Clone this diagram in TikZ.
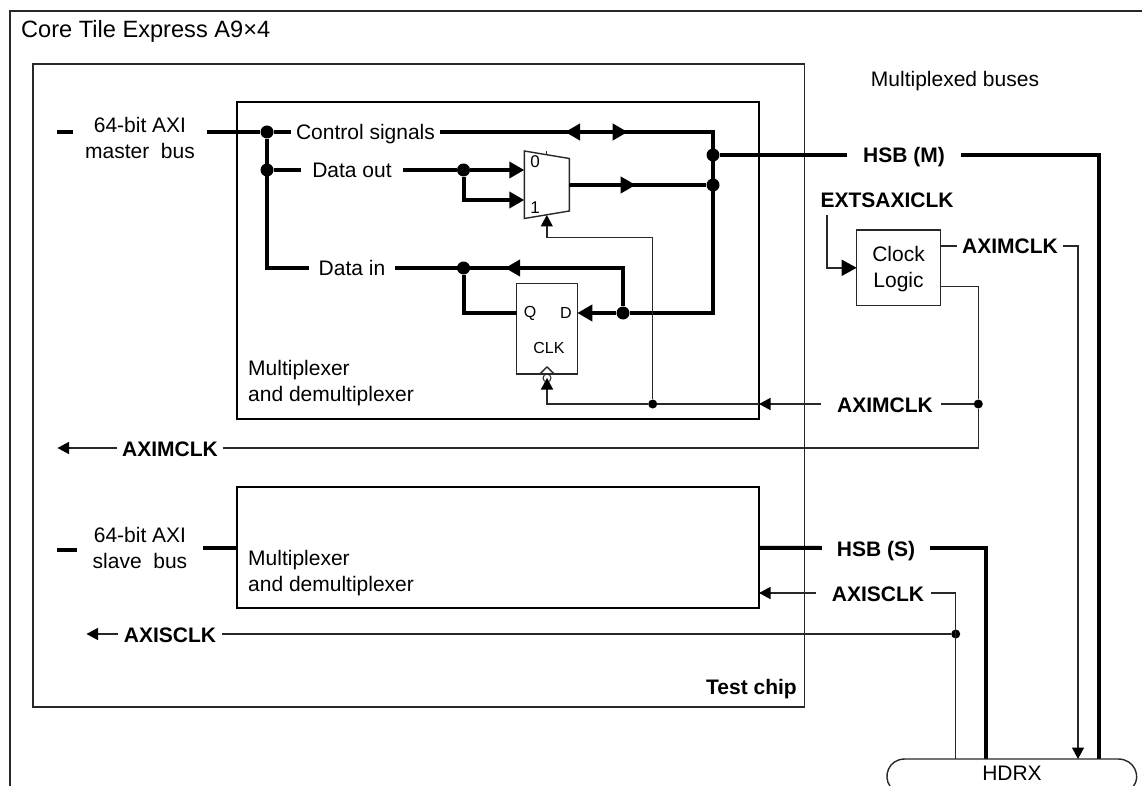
\documentclass[tikz,border=0pt]{standalone}
\usepackage{fontspec}
\setmainfont{Liberation Sans}
\usepackage{xcolor}
\usetikzlibrary{arrows.meta,positioning,calc}
\definecolor{linecol}{RGB}{40,40,40}
\tikzset{
  frameln/.style={draw=linecol,line width=1.5pt},
  blockbox/.style={rectangle,draw=black,line width=2pt,fill=none,inner sep=0pt,outer sep=0pt},
  smallbox/.style={rectangle,draw=linecol,line width=1.4pt,fill=none,inner sep=0pt,outer sep=0pt,align=center},
  bus/.style={draw=black,line width=4pt},
  busarr/.style={bus,-{Triangle[length=15pt,width=16pt]}},
  clk/.style={draw=linecol,line width=1.4pt},
  clkarr/.style={clk,-{Triangle[length=11.5pt,width=12pt,color=black]}},
  lab/.style={inner ysep=0pt,outer sep=0pt,text height=16pt,text depth=0pt},
  blab/.style={lab,font=\fontsize{21}{26}\selectfont\bfseries},
  twoline/.style={align=center,inner ysep=0pt,outer sep=0pt},
  busdot/.style={circle,fill=black,inner sep=0pt,minimum size=13pt},
  clkdot/.style={circle,fill=black,inner sep=0pt,minimum size=9pt},
  pin/.style={inner sep=0pt,font=\fontsize{16}{18}\selectfont},
}
\begin{document}
\begin{tikzpicture}[x=1pt,y=-1pt,font=\fontsize{21}{26}\selectfont]
  \useasboundingbox (0,0) rectangle (1142,786);
  % outer board and blocks
  \coordinate (frameA) at (10,786);
  \coordinate (frameB) at (10,11);
  \coordinate (frameC) at (1142,11);
  \draw[frameln] (frameA) -- (frameB) -- (frameC);
  \node[anchor=west,inner sep=0pt,font=\fontsize{23.6}{28}\selectfont] (title) at (21,31) {Core Tile Express A9×4};
  \node[blockbox,draw=linecol,line width=1.5pt,minimum width=771.5pt,minimum height=643pt] (chip) at (418.75,385.5) {};
  \node[blockbox,minimum width=522pt,minimum height=317.5pt] (mxa) at (498,260.5) {};
  \node[blockbox,minimum width=522pt,minimum height=121pt] (mxb) at (498,547.75) {};
  \node[smallbox,minimum width=60.6pt,minimum height=90.7pt] (ff) at (547,328.6) {};
  \node[smallbox,minimum width=83.6pt,minimum height=75.7pt] (clklogic) at (898.5,267.8) {};
  \node[align=center,inner sep=0pt] (clktxt) at (898.5,269.5) {Clock\\Logic};
  \node[anchor=west,align=left,inner sep=0pt] (mxatxt) at (248,383.5) {Multiplexer\\and demultiplexer};
  \node[anchor=west,align=left,inner sep=0pt] (mxbtxt) at (248,573) {Multiplexer\\and demultiplexer};
  \node[anchor=east,inner sep=0pt,font=\fontsize{21}{26}\selectfont\bfseries] (chiptxt) at (797,689.5) {Test chip};
  \node[inner sep=0pt] (muxbuses) at (955,81) {Multiplexed buses};
  % bus labels
  \node[twoline,inner xsep=12pt] (mbus) at (140,138) {64-bit AXI\\master\ \ bus};
  \node[twoline,inner xsep=16pt] (sbus) at (140,548) {64-bit AXI\\slave\ \ bus};
  \node[lab,inner xsep=5pt] (ctl) at (365.5,132) {Control signals};
  \node[lab,inner xsep=11pt] (dout) at (352,170) {Data out};
  \node[lab,inner xsep=10pt] (din) at (352,268) {Data in};
  \node[blab,inner xsep=16pt] (hsbm) at (904,155) {HSB (M)};
  \node[blab,inner xsep=15pt] (hsbs) at (876,548) {HSB (S)};
  \node[blab,inner xsep=8pt] (clka) at (885,404) {AXIMCLK};
  \node[blab,inner xsep=5pt] (clkb) at (170,448) {AXIMCLK};
  \node[blab,inner xsep=5pt] (clkc) at (1010,246) {AXIMCLK};
  \node[blab,inner xsep=7pt] (clks) at (878,593) {AXISCLK};
  \node[blab,inner xsep=6pt] (clkt) at (170,634) {AXISCLK};
  \node[blab,inner sep=0pt] (extclk) at (887,200) {EXTSAXICLK};
  \node[inner sep=0pt] (hdrx) at (1012,773) {HDRX};
  % multiplexer outline
  \coordinate (muxA) at (524.3,151);
  \coordinate (muxB) at (569.3,158.5);
  \coordinate (muxC) at (569.3,211);
  \coordinate (muxD) at (524.3,218.5);
  \draw[clk] (muxA) -- (muxB) -- (muxC) -- (muxD) -- cycle;
  \coordinate (muxtick) at (546.8,151);
  \draw[clk,line width=.8pt] (muxtick) -- ++(0,4);
  \node[pin,font=\fontsize{17}{18}\selectfont] (mux0) at (535,162) {0};
  \node[pin,font=\fontsize{17}{18}\selectfont] (mux1) at (535,208) {1};
  % junctions
  \foreach \nm/\px/\py in {jctl/267/132,jdout/267/170,jmuxin/463.5/170,jdin/463.5/268,jhsb/713/155,jmuxout/713/185,jff/623/313}{
    \node[busdot] (\nm) at (\px,\py) {};}
  \foreach \nm/\px/\py in {jclkff/652.7/404,jclka/978.3/404,jclks/955.7/634}{
    \node[clkdot] (\nm) at (\px,\py) {};}
  % points on the lines
  \coordinate (mstub) at (57,132);
  \coordinate (sstub) at (57,550);
  \coordinate (ctlLb) at (580,132);
  \coordinate (ctlL) at (565,132);
  \coordinate (ctlRb) at (612.7,132);
  \coordinate (ctlR) at (627.7,132);
  \coordinate (ctlC) at (713,132);
  \coordinate (muxi0) at (524.3,170);
  \coordinate (muxi1) at (524.3,200);
  \coordinate (muxo) at (569.3,185);
  \coordinate (muxob) at (620.7,185);
  \coordinate (muxot) at (635.7,185);
  \coordinate (dinb) at (520,268);
  \coordinate (dint) at (505,268);
  \coordinate (dinC) at (623,268);
  \coordinate (ffD) at (577.3,313);
  \coordinate (ffQ) at (516.7,313);
  \coordinate (busB) at (713,313);
  \coordinate (hsbmR) at (1099.3,155);
  \coordinate (hsbsR) at (986,548);
  \coordinate (hdrxM) at (1099.3,759);
  \coordinate (hdrxS) at (986,759);
  \coordinate (hdrxC) at (1078,759);
  \coordinate (hdrxT) at (955.7,759);
  % buses
  \draw[bus] (mstub) -- (mbus.west |- mstub);
  \draw[bus] (mbus.east |- mstub) -- (jctl) -- (ctl.west);
  \draw[bus] (jctl) -- (jdout |- din) -- (din.west);
  \draw[bus] (jdout) -- (dout.west);
  \draw[bus] (ctl.east) -- (ctlC) -- (busB) -- (jff);
  \draw[busarr] (ctlLb) -- (ctlL);
  \draw[busarr] (ctlRb) -- (ctlR);
  \draw[busarr] (jff) -- (ffD);
  \draw[bus] (jff) -- (dinC) -- (din.east);
  \draw[busarr] (dinb) -- (dint);
  \draw[bus] (jdin) -- (jdin |- ffQ) -- (ffQ);
  \draw[bus] (dout.east) -- (jmuxin);
  \draw[busarr] (jmuxin) -- (muxi0);
  \draw[busarr] (jmuxin) |- (muxi1);
  \draw[bus] (muxo) -- (jmuxout);
  \draw[busarr] (muxob) -- (muxot);
  \draw[bus] (jhsb) -- (hsbm.west);
  \draw[bus] (hsbm.east) -- (hsbmR) -- (hdrxM);
  \draw[bus] (sstub) -- (sbus.west |- sstub);
  \draw[bus] (sbus.east |- mxb.west) -- (mxb.west);
  \draw[bus] (mxb.east) -- (hsbs.west);
  \draw[bus] (hsbs.east) -- (hsbsR) -- (hdrxS);
  % flip-flop pins
  \node[pin] (ffq) at (530,313) {Q};
  \node[pin] (ffd) at (566,313) {D};
  \node[pin] (ffclk) at (549,348) {CLK};
  \coordinate (chevA) at (539.7,374);
  \coordinate (chevB) at (547,367);
  \coordinate (chevC) at (554.3,374);
  \draw[clk] (chevA) -- (chevB) -- (chevC);
  \node[circle,draw=linecol,line width=1pt,inner sep=0pt,minimum size=8pt] (ffbub) at (547,378) {};
  % clocks
  \draw[clkarr] (jclkff) -| (ffbub.center);
  \draw[clkarr] (jclkff) |- (546.8,237.7) -- (546.8,215);
  \draw[clkarr,shorten <=8pt] (clka.west) -- (mxa.east |- clka);
  \draw[clk] (mxa.east |- clka) -- (jclkff);
  \draw[clk] (clka.east) -- (jclka);
  \coordinate (clkloR) at (940.3,286.7);
  \draw[clk] (clkloR) -| (jclka);
  \draw[clk] (jclka) |- (clkb.east);
  \draw[clkarr] (clkb.west) -- (57.5,448);
  \draw[clk] (clklogic.east |- clkc) -- (clkc.west);
  \draw[clkarr] (clkc.east) -| (hdrxC);
  \coordinate (extA) at (827,215);
  \draw[clk,-{Triangle[length=15pt,width=16pt,color=black]}] (extA) |- (clklogic.west);
  \draw[clkarr,shorten <=9pt] (clks.west) -- (mxb.east |- clks);
  \draw[clk] (clks.east) -| (hdrxT);
  \draw[clk] (jclks) -- (clkt.east);
  \draw[clkarr] (clkt.west) -- (86.5,634);
  % HDRX outline, cut by the page edge
  \coordinate (hxA) at (890,786);
  \coordinate (hxB) at (905,759);
  \coordinate (hxC) at (1118,759);
  \coordinate (hxD) at (1133.5,786);
  \draw[clk] (hxA) .. controls (883,777) and (888,759) .. (hxB) -- (hxC) .. controls (1135,759) and (1141,777) .. (hxD);
\end{tikzpicture}
\end{document}
